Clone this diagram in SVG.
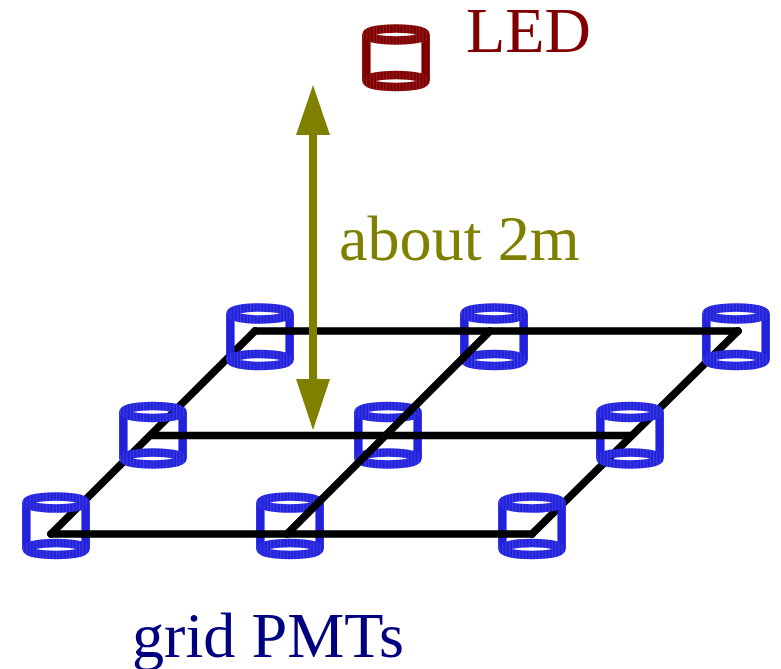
<svg xmlns="http://www.w3.org/2000/svg" width="781" height="669" viewBox="0 0 781 669">
<style>
text{font-family:"Liberation Serif","Times New Roman",serif;font-size:64.200px}
.c{fill:none;stroke-width:8.500}
.s{fill:none;stroke-width:8.500;stroke:url(#stripes)}
.pmt{stroke:#2222dd}
.led{stroke:#800000}
.w{fill:none;stroke:#000;stroke-width:7.600;stroke-linecap:round;stroke-linejoin:round}
</style>
<defs>
<pattern id="stripes" patternUnits="userSpaceOnUse" width="3.300" height="10">
<rect x="0" y="0" width="1" height="10" fill="#fff" fill-opacity=".13"/>
</pattern>
<g id="cyl">
<ellipse class="c" cx="0" cy="0" rx="29.500" ry="6"/>
<ellipse class="c" cx="0" cy="46.500" rx="29.500" ry="6"/>
<path class="c" d="M-29.650 0V46.500M29.650 0V46.500"/>
<ellipse class="s" cx="0" cy="0" rx="29.500" ry="6"/>
<ellipse class="s" cx="0" cy="46.500" rx="29.500" ry="6"/>
</g>
</defs>
<g id="connectors-under">
<path class="w" d="M51 534L255 331"/>
<path class="w" d="M532 534L738 331"/>
</g>
<g id="pmt-back-1" class="pmt"><use href="#cyl" x="260" y="313.500"/></g>
<g id="pmt-back-2" class="pmt"><use href="#cyl" x="494" y="313.500"/></g>
<g id="pmt-back-3" class="pmt"><use href="#cyl" x="736" y="313.500"/></g>
<g id="pmt-mid-1" class="pmt"><use href="#cyl" x="153" y="412"/></g>
<g id="pmt-mid-2" class="pmt"><use href="#cyl" x="388" y="412"/></g>
<g id="pmt-mid-3" class="pmt"><use href="#cyl" x="630" y="412"/></g>
<g id="pmt-front-1" class="pmt"><use href="#cyl" x="56" y="502.500"/></g>
<g id="pmt-front-2" class="pmt"><use href="#cyl" x="290" y="502.500"/></g>
<g id="pmt-front-3" class="pmt"><use href="#cyl" x="532" y="502.500"/></g>
<g id="led" class="led"><use href="#cyl" x="396" y="34.500"/></g>
<g id="connectors">
<path class="w" d="M51 534H532"/>
<path class="w" d="M255 331H738"/>
<path class="w" d="M287 534L490 331"/>
<path class="w" d="M153 435.500H630"/>
<g id="height-arrow" fill="#808000">
<rect x="309" y="130" width="8" height="255"/>
<path d="M313 85L330 135H296Z"/>
<path d="M313 430L330 379H296Z"/>
</g>
</g>
<text id="label-led" x="466" y="52" fill="#800000">LED</text>
<text id="label-height" x="339" y="260" fill="#808000">about 2m</text>
<text id="label-grid" x="132" y="657" fill="#000080">grid PMTs</text>
</svg>
